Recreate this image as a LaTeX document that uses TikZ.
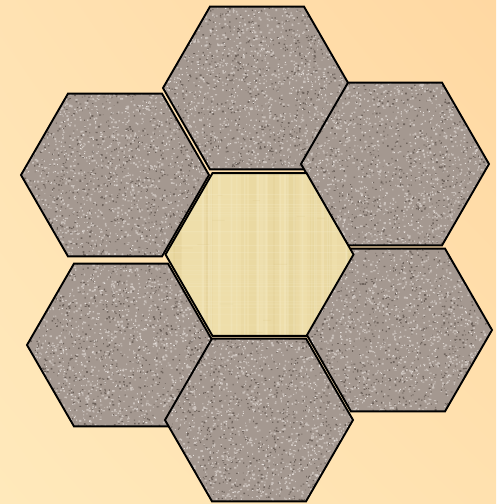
\documentclass[tikz,border=0pt]{standalone}
\usepackage{xcolor}
\usepackage{tikz}
\usetikzlibrary{shapes.geometric, shadings, positioning}
\definecolor{bgtopleft}{RGB}{255,226,178}
\definecolor{bgtopright}{RGB}{255,216,162}
\definecolor{bgbotleft}{RGB}{255,233,187}
\definecolor{bgbotright}{RGB}{255,225,175}
\definecolor{granite}{RGB}{164,152,144}
\definecolor{granitelight}{RGB}{202,193,187}
\definecolor{granitewhite}{RGB}{230,224,220}
\definecolor{granitedark}{RGB}{110,99,92}
\definecolor{papyrus}{RGB}{238,222,170}
\definecolor{papyruslight}{RGB}{246,236,198}
\definecolor{papyrusdark}{RGB}{216,194,128}

\begin{document}
\begin{tikzpicture}[x=1pt, y=-1pt,
    hexa/.style={regular polygon, regular polygon sides=6, minimum size=188pt, inner sep=0pt, draw=black, line width=1.9pt},
    stone/.style={hexa, fill=granite, path picture={
        \fill[granitedark, shift={(path picture bounding box.center)}]
            \foreach \i in {1,...,900}{ ({rand*96},{rand*84}) rectangle ++({0.6+rnd*1.4},{0.6+rnd*1.2}) };
        \fill[granitelight, shift={(path picture bounding box.center)}]
            \foreach \i in {1,...,1100}{ ({rand*96},{rand*84}) rectangle ++({0.8+rnd*1.6},{0.8+rnd*1.3}) };
        \fill[granitewhite, shift={(path picture bounding box.center)}]
            \foreach \i in {1,...,400}{ ({rand*96},{rand*84}) rectangle ++({0.6+rnd*0.8},1) };
    }},
    paper/.style={hexa, fill=papyrus, path picture={
        \foreach \i in {1,...,26}{
            \pgfmathsetmacro{\px}{rand*96}\pgfmathsetmacro{\pw}{2+rnd*8}\pgfmathsetmacro{\po}{0.08+rnd*0.14}
            \fill[papyrusdark, opacity=\po] ([shift={(\px pt,-90pt)}]path picture bounding box.center) rectangle ++(\pw pt,180pt);
        }
        \fill[papyruslight, opacity=0.35, shift={(path picture bounding box.center)}]
            \foreach \i in {1,...,30}{ ({rand*96},-90) rectangle ++({0.5+rnd*2},180) };
        \fill[papyruslight, opacity=0.3, shift={(path picture bounding box.center)}]
            \foreach \i in {1,...,35}{ (-100,{rand*84}) rectangle ++(200,0.6) };
        \fill[papyrusdark, opacity=0.25, shift={(path picture bounding box.center)}]
            \foreach \i in {1,...,20}{ ({rand*90},{rand*80}) rectangle ++({4+rnd*12},0.7) };
    }}
]
\pgfmathsetseed{7}

% Background
\shade[upper left=bgtopleft, upper right=bgtopright, lower left=bgbotleft, lower right=bgbotright] (0,0) rectangle (496,504);
\useasboundingbox (0,0) rectangle (496,504);

% Outer ring of stone tiles
\node[stone] (topleft) at (115,175) {};
\node[stone] (botleft) at (121,345) {};
\node[stone] (top) at (257,88) {};
\node[stone] (topright) at (395,164) {};
\node[stone] (botright) at (398,330) {};

% Centre tile
\node[paper] (mid) at (259.5,254.5) {};

\node[stone] (bot) at (259,420) {};

\end{tikzpicture}
\end{document}
